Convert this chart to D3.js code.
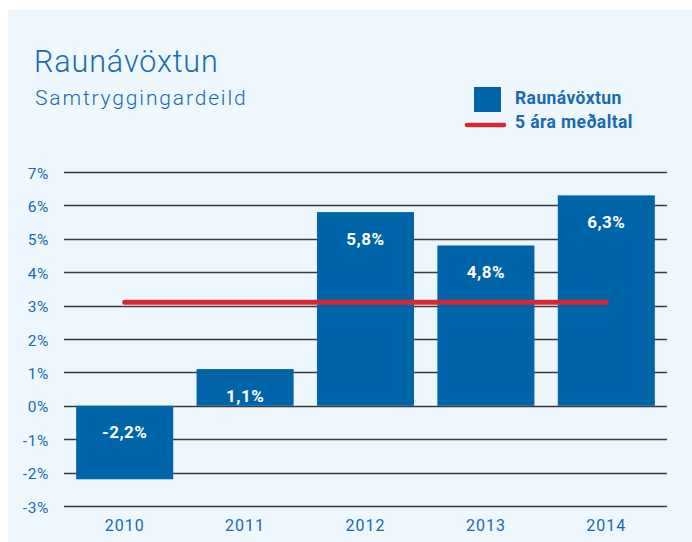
<!DOCTYPE html>
<html>
<head>
<meta charset="utf-8">
<script src="https://cdn.jsdelivr.net/npm/d3@7"></script>
<style>
	body { margin: 0; background: #ffffff; }
	svg { display: block; font-family: Roboto, "Open Sans", sans-serif; }
</style>
</head>
<body>
<svg id="chart" width="692" height="542"></svg>
<script>
// data
const years = ["2010", "2011", "2012", "2013", "2014"];
const returns = [-2.2, 1.1, 5.8, 4.8, 6.3];
const avg5 = 3.1; // 5 ára meðaltal
const yTicks = [-3, -2, -1, 0, 1, 2, 3, 4, 5, 6, 7];
const legendLabels = ["Raunávöxtun", "5 ára meðaltal"];

const blue = "#0065a8";
const red = "#d52a33";
const textBlue = "#1a6aad";

const svg = d3.select("#chart");

// light panel behind everything
svg.append("rect")
	.attr("x", 8).attr("y", 10)
	.attr("width", 692).attr("height", 542)
	.attr("fill", "#eef7fe");

// titles
svg.append("text")
	.attr("x", 34).attr("y", 72)
	.attr("fill", textBlue)
	.attr("font-size", 30.5)
	.attr("font-weight", 300)
	.attr("letter-spacing", 0.9)
	.text("Raunávöxtun");
svg.append("text")
	.attr("x", 35).attr("y", 105)
	.attr("fill", textBlue)
	.attr("font-size", 21)
	.attr("font-weight", 300)
	.attr("letter-spacing", 1.85)
	.text("Samtryggingardeild");

const x = d3.scaleBand()
	.domain(years)
	.range([64, 667])
	.paddingInner(0.194)
	.paddingOuter(0.101);

const y = d3.scaleLinear()
	.domain([-3, 7])
	.range([506, 172]);

// gridlines + y labels
const grid = svg.append("g");
grid.selectAll("line")
	.data(yTicks)
	.enter().append("line")
	.attr("x1", 64).attr("x2", 667)
	.attr("y1", d => Math.round(y(d)) + 0.5)
	.attr("y2", d => Math.round(y(d)) + 0.5)
	.attr("stroke", "#3a3a3a")
	.attr("stroke-width", 1.3);
grid.selectAll("text")
	.data(yTicks)
	.enter().append("text")
	.attr("x", 49)
	.attr("y", d => y(d) + 6.5)
	.attr("text-anchor", "end")
	.attr("fill", textBlue)
	.attr("font-size", 15.5)
	.attr("letter-spacing", 0.6)
	.text(d => d + "%");

// bars
svg.append("g").selectAll("rect")
	.data(returns)
	.enter().append("rect")
	.attr("x", (d, i) => x(years[i]))
	.attr("width", x.bandwidth())
	.attr("y", d => y(Math.max(0, d)))
	.attr("height", d => Math.abs(y(d) - y(0)))
	.attr("fill", blue);

// value labels inside bars
svg.append("g").selectAll("text")
	.data(returns)
	.enter().append("text")
	.attr("x", (d, i) => x(years[i]) + x.bandwidth() / 2)
	.attr("y", d => y(Math.max(0, d)) + 32.5)
	.attr("text-anchor", "middle")
	.attr("fill", "#ffffff")
	.attr("font-size", 17)
	.attr("font-weight", 700)
	.attr("letter-spacing", 0.5)
	.text(d => d.toFixed(1).replace(".", ",") + "%");

// 5 year average line, from first to last bar center
svg.append("line")
	.attr("x1", x(years[0]) + x.bandwidth() / 2)
	.attr("x2", x(years[years.length - 1]) + x.bandwidth() / 2)
	.attr("y1", y(avg5)).attr("y2", y(avg5))
	.attr("stroke", red)
	.attr("stroke-width", 5)
	.attr("stroke-linecap", "round");

// x labels
svg.append("g").selectAll("text")
	.data(years)
	.enter().append("text")
	.attr("x", d => x(d) + x.bandwidth() / 2)
	.attr("y", 531)
	.attr("text-anchor", "middle")
	.attr("fill", textBlue)
	.attr("font-size", 16)
	.attr("letter-spacing", 1)
	.text(d => d);

// legend
const legend = svg.append("g");
legend.append("rect")
	.attr("x", 474).attr("y", 87)
	.attr("width", 27).attr("height", 25)
	.attr("fill", blue);
legend.append("line")
	.attr("x1", 467).attr("x2", 504)
	.attr("y1", 125).attr("y2", 125)
	.attr("stroke", red)
	.attr("stroke-width", 4.5)
	.attr("stroke-linecap", "round");
legend.selectAll("text")
	.data(legendLabels)
	.enter().append("text")
	.attr("x", 515)
	.attr("y", (d, i) => 104 + i * 24)
	.attr("fill", textBlue)
	.attr("font-size", 17.5)
	.attr("font-weight", 700)
	.attr("letter-spacing", 0.4)
	.text(d => d);
</script>
</body>
</html>
